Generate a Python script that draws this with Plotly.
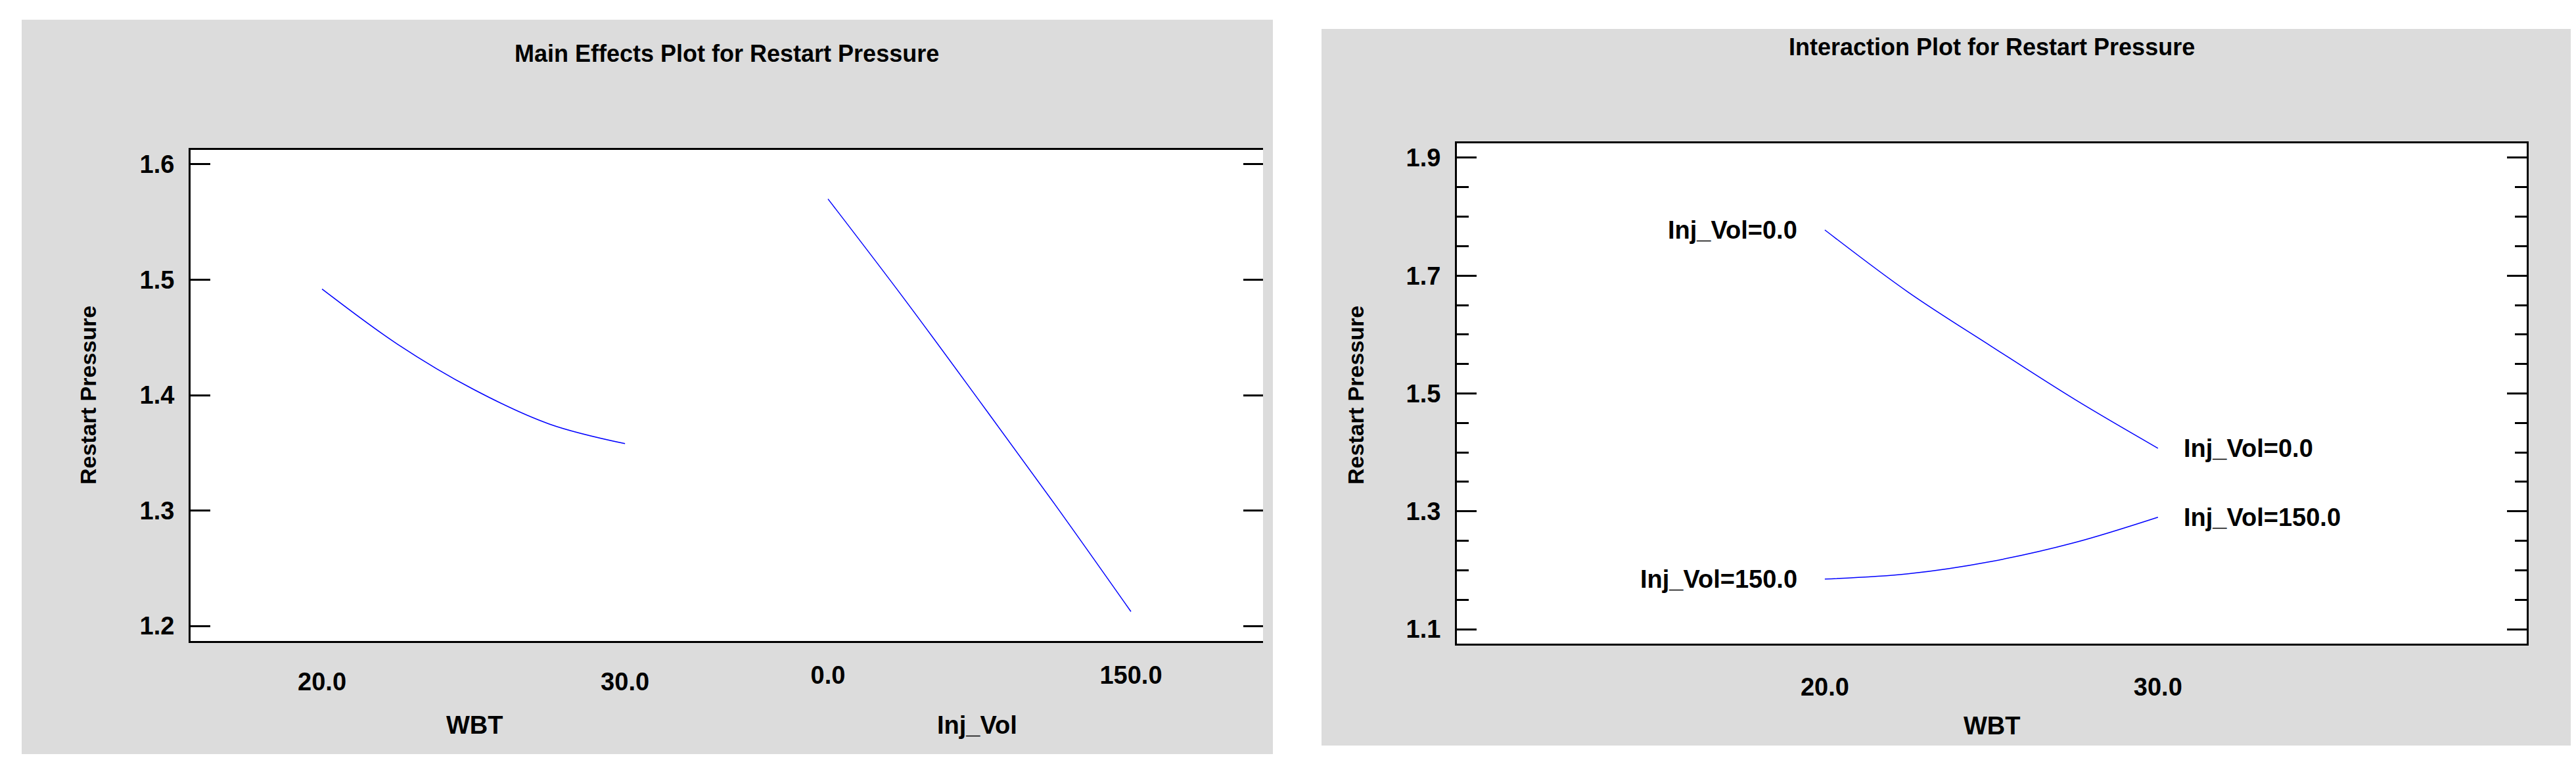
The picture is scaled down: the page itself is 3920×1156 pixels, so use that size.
import plotly.graph_objects as go

W, H = 3920, 1156
wbt_x = [20, 22.5, 25, 27.5, 30]
wbt_y = [1.492, 1.444, 1.405, 1.375, 1.358]
inj_x = [0, 37.5, 75, 112.5, 150]
inj_y = [1.570, 1.484, 1.395, 1.305, 1.2125]
int_x = [20, 22.5, 25, 27.5, 30]
int_y0 = [1.7775, 1.672, 1.580, 1.490, 1.407]
int_y150 = [1.185, 1.194, 1.215, 1.247, 1.290]
FONT = "Liberation Sans, Arial, sans-serif"
BLUE = "#0000ff"

def px(x): return x / W
def py(y): return 1 - y / H

fig = go.Figure()
ln = dict(color=BLUE, width=1.5, shape="spline")
fig.add_trace(go.Scatter(x=wbt_x, y=wbt_y, mode="lines", line=ln, xaxis="x", yaxis="y"))
fig.add_trace(go.Scatter(x=inj_x, y=inj_y, mode="lines", line=ln, xaxis="x2", yaxis="y"))
fig.add_trace(go.Scatter(x=int_x, y=int_y0, mode="lines", line=ln, xaxis="x3", yaxis="y3"))
fig.add_trace(go.Scatter(x=int_x, y=int_y150, mode="lines", line=ln, xaxis="x3", yaxis="y3"))

tickfont = dict(family=FONT, size=38, color="black", weight="bold")
frame = dict(showline=True, linecolor="black", linewidth=3, mirror=True, showgrid=False, zeroline=False)
ld = [px(282), px(1914)]
rd = [px(2209), px(3837)]
ldy = [py(967), py(220)]
lyr = [1.187, 1.6125]
lyt = [1.2, 1.3, 1.4, 1.5, 1.6]
fig.update_layout(
    width=W, height=H, margin=dict(l=0, r=0, t=0, b=0),
    paper_bgcolor="white", plot_bgcolor="white", showlegend=False,
    font=dict(family=FONT, color="black"),
    xaxis=dict(domain=ld, range=[15.66, 51.06], tickvals=[20, 30], ticktext=["20.0", "30.0"],
               ticks="", tickfont=tickfont, ticklabelstandoff=26, anchor="y", **frame),
    xaxis2=dict(domain=ld, range=[-315.6, 215.4], tickvals=[0, 150], ticktext=["0.0", "150.0"],
                overlaying="x", side="bottom", anchor="y", ticks="", tickfont=tickfont,
                ticklabelstandoff=26, showline=False, showgrid=False, zeroline=False),
    yaxis=dict(domain=ldy, range=lyr, tickvals=lyt, ticktext=["%.1f" % v for v in lyt],
               ticks="inside", ticklen=30, tickwidth=3, tickcolor="black", tickfont=tickfont,
               ticklabelstandoff=14, anchor="x", showline=True, linecolor="black", linewidth=3,
               showgrid=False, zeroline=False),
    yaxis2=dict(domain=ldy, range=lyr, tickvals=lyt, showticklabels=False, overlaying="y",
                side="right", anchor="x", ticks="inside", ticklen=30, tickwidth=3, tickcolor="black",
                showline=False, showgrid=False, zeroline=False),
    xaxis3=dict(domain=rd, range=[8.955, 41.07], tickvals=[20, 30], ticktext=["20.0", "30.0"],
                ticks="", tickfont=tickfont, ticklabelstandoff=30, anchor="y3", **frame),
    yaxis3=dict(domain=[py(971), py(210)], range=[1.0755, 1.9245], tickvals=[1.1, 1.3, 1.5, 1.7, 1.9],
                ticktext=["1.1", "1.3", "1.5", "1.7", "1.9"], ticks="inside", ticklen=30, tickwidth=3,
                tickcolor="black", tickfont=tickfont, ticklabelstandoff=14, anchor="x3",
                minor=dict(dtick=0.05, ticks="inside", ticklen=18, tickwidth=3, tickcolor="black"),
                **{**frame, "mirror": "allticks"}),
)
fig.add_trace(go.Scatter(x=[None], y=[None], xaxis="x", yaxis="y2", showlegend=False))
shapes = [
    dict(type="rect", xref="paper", yref="paper", x0=px(25), x1=px(1929), y0=py(1139), y1=py(22),
         fillcolor="#dcdcdc", line=dict(width=0), layer="below"),
    dict(type="rect", xref="paper", yref="paper", x0=px(2003), x1=px(3917), y0=py(1126), y1=py(36),
         fillcolor="#dcdcdc", line=dict(width=0), layer="below"),
    dict(type="rect", xref="paper", yref="paper", x0=ld[0], x1=ld[1], y0=ldy[0], y1=ldy[1],
         fillcolor="white", line=dict(width=0), layer="below"),
    dict(type="rect", xref="paper", yref="paper", x0=rd[0], x1=rd[1], y0=py(971), y1=py(210),
         fillcolor="white", line=dict(width=0), layer="below"),
]
fig.update_layout(shapes=shapes)

def ann(x, y, text, size, angle=0, xanchor="center"):
    fig.add_annotation(xref="paper", yref="paper", x=px(x), y=py(y), text="<b>%s</b>" % text,
                       showarrow=False, textangle=angle, xanchor=xanchor, yanchor="middle",
                       font=dict(family=FONT, size=size, color="black"))

ann(1098, 74, "Main Effects Plot for Restart Pressure", 36)
ann(3023, 63, "Interaction Plot for Restart Pressure", 36)
ann(714, 1095, "WBT", 38)
ann(1479, 1095, "Inj_Vol", 38)
ann(3023, 1096, "WBT", 38)
ann(126, 593, "Restart Pressure", 34, angle=-90)
ann(2055, 593, "Restart Pressure", 34, angle=-90)
for x, y, t, xa in [(20, 1.7775, "Inj_Vol=0.0", "right"), (20, 1.185, "Inj_Vol=150.0", "right"),
                    (30, 1.407, "Inj_Vol=0.0", "left"), (30, 1.290, "Inj_Vol=150.0", "left")]:
    fig.add_annotation(xref="x3", yref="y3", x=x, y=y, text="<b>%s</b>" % t, showarrow=False,
                       xanchor=xa, xshift=-40 if xa == "right" else 37,
                       font=dict(family=FONT, size=38, color="black"))
fig.write_html("out.html")
